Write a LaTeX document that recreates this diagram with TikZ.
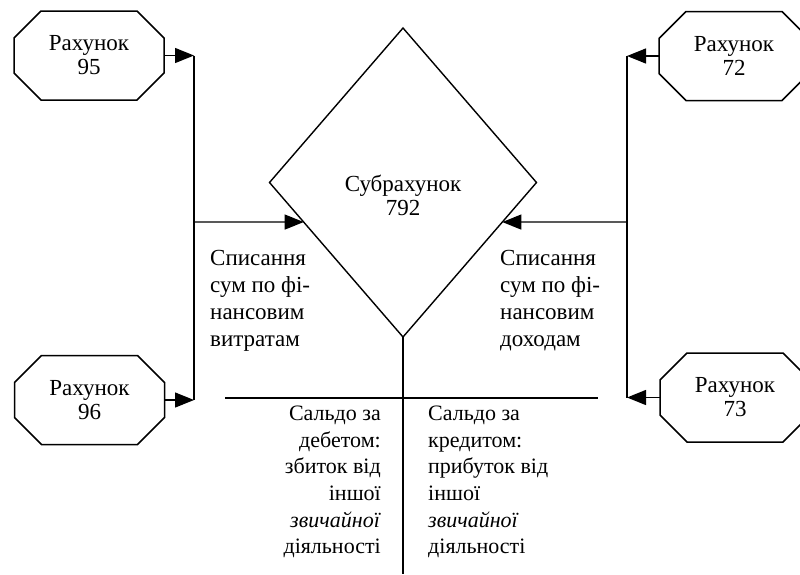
\documentclass[tikz,border=0pt]{standalone}
\usepackage{fontspec}
\setmainfont{Liberation Serif}
\usetikzlibrary{shapes.geometric,arrows.meta,calc}
\newcommand\octbox[1]{%
  \draw[octline] ($(#1.north west)+(27,0)$) -- ($(#1.north east)+(-27,0)$)
    -- ($(#1.north east)+(0,27)$) -- ($(#1.south east)+(0,-27)$)
    -- ($(#1.south east)+(-27,0)$) -- ($(#1.south west)+(27,0)$)
    -- ($(#1.south west)+(0,-27)$) -- ($(#1.north west)+(0,27)$) -- cycle;}
\begin{document}
\begin{tikzpicture}[x=1pt,y=-1pt,
  acct/.style={rectangle, minimum width=150pt, minimum height=89pt, inner sep=0pt, outer sep=0pt, align=center, font=\fontsize{23}{24}\selectfont},
  octline/.style={line width=1.5pt, line join=miter},
  dia/.style={diamond, draw, line width=1.4pt, minimum width=267pt, minimum height=309pt, inner sep=0pt, outer sep=0pt},
  conn/.style={line width=1.3pt},
  arr/.style={conn,-{Triangle[length=19pt,width=15pt]}},
  lbl/.style={font=\fontsize{23}{27}\selectfont, inner sep=0pt},
  bal/.style={font=\fontsize{22}{26.6}\selectfont, inner sep=0pt}]
\useasboundingbox (0,0) rectangle (800,574);

% accounts
\node[acct] (a95) at (89,55.5) {Рахунок\\95};
\node[acct] (a96) at (89.5,400) {Рахунок\\96};
\node[acct] (a72) at (734,56) {Рахунок\\72};
\node[acct] (a73) at (735,397.5) {Рахунок\\73};
\octbox{a95}
\octbox{a96}
\octbox{a72}
\octbox{a73}

% central diamond
\node[dia] (d) at (403,182.5) {};
\node[font=\fontsize{23}{24}\selectfont, align=center, inner sep=0pt] (sub) at (403,195) {Субрахунок\\792};

% helper coordinates
\coordinate (lx) at (194,222);
\coordinate (rx) at (627,222);
\coordinate (dl) at ($(d.west)!0.256!(d.south)$);
\coordinate (dr) at ($(d.east)!0.256!(d.south)$);
\coordinate (vb) at (403,574);
\coordinate (hl) at (225,398);
\coordinate (hr) at (598,398);

% left side
\draw[arr] (a95.east) -- (a95.east -| lx);
\draw[arr] (a96.east) -- (a96.east -| lx);
\draw[conn] (a95.east -| lx) -- (a96.east -| lx);
\draw[arr] (lx) -- (dl);

% right side
\draw[arr] (a72.west) -- (a72.west -| rx);
\draw[arr] (a73.west) -- (a73.west -| rx);
\draw[conn] (a72.west -| rx) -- (a73.west -| rx);
\draw[arr] (rx) -- (dr);

% T-account
\draw[conn] (d.south) -- (vb);
\draw[conn] (hl) -- (hr);

% labels
\node[lbl, anchor=west, align=left] (ldesc) at (210,301) {Списання\\сум по фі-\\нансовим\\витратам};
\node[lbl, anchor=west, align=left] (rdesc) at (500,301) {Списання\\сум по фі-\\нансовим\\доходам};
\node[bal, anchor=east, align=right] (deb) at (381,482) {Сальдо за\\дебетом:\\збиток від\\іншої\\\textit{звичайної}\\діяльності};
\node[bal, anchor=west, align=left] (cred) at (428,482) {Сальдо за\\кредитом:\\прибуток від\\іншої\\\textit{звичайної}\\діяльності};
\end{tikzpicture}
\end{document}
